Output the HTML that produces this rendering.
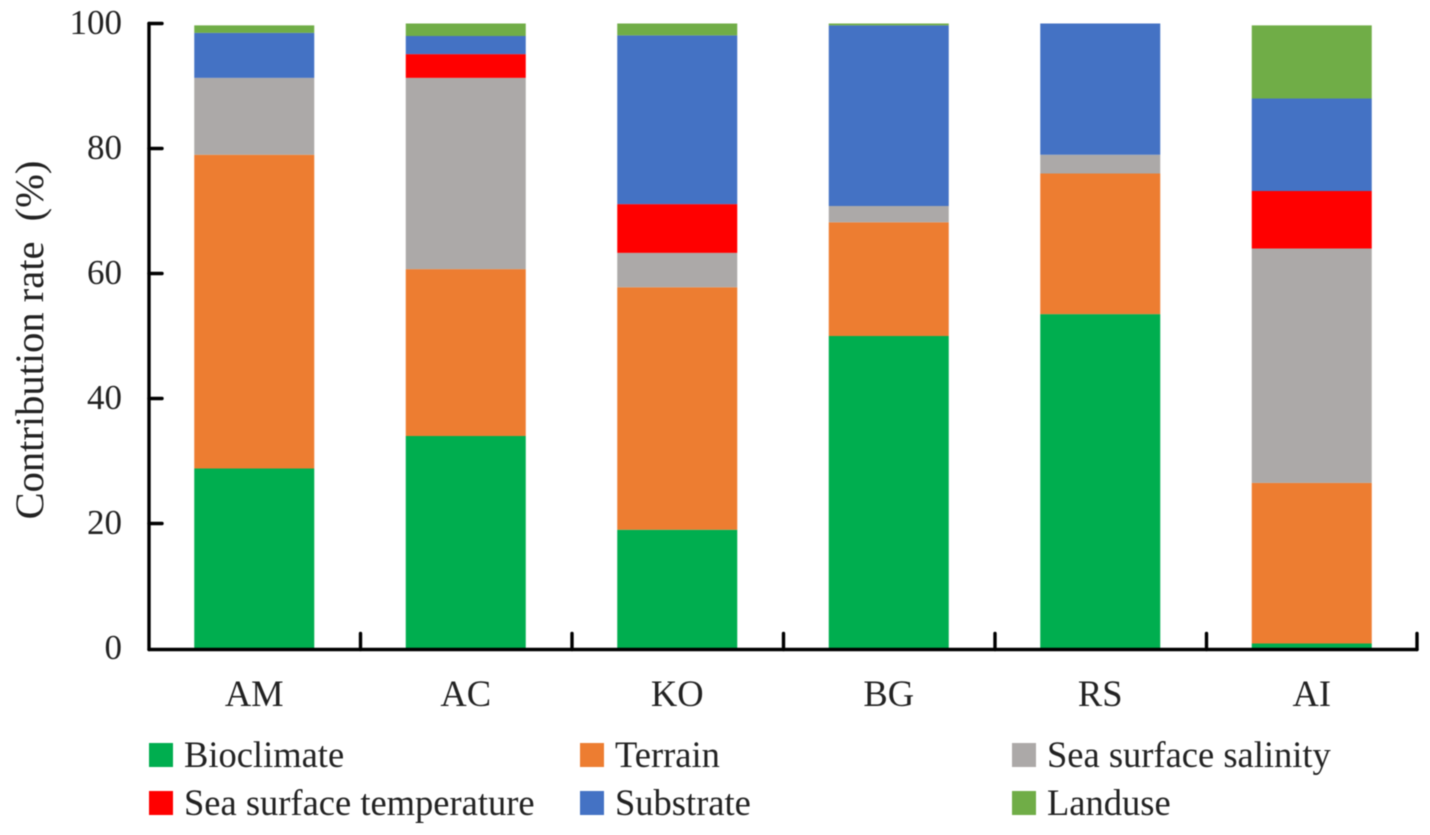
<!DOCTYPE html>
<html lang="en">
<head>
<meta charset="utf-8">
<title>Contribution rate chart</title>
<style>
html,body{margin:0;padding:0;background:#fff;}
body{width:1430px;height:835px;overflow:hidden;}
svg{display:block;filter:blur(0.45px);}
text{font-family:"Liberation Serif",serif;fill:#222;}
</style>
</head>
<body>
<svg id="chart" width="1430" height="835" viewBox="0 0 1430 835" xmlns="http://www.w3.org/2000/svg">
  <g id="marks"></g>
  <g id="axes"></g>
  <g id="legend"></g>
  <text transform="translate(43,340) rotate(-90)" text-anchor="middle" xml:space="preserve" style="font-size:40.5px">Contribution rate  (%)</text>
</svg>
<script>
const categories = ["AM", "AC", "KO", "BG", "RS", "AI"];
const yTickLabels = [0, 20, 40, 60, 80, 100];
const seriesNames = ["Bioclimate", "Terrain", "Sea surface salinity", "Sea surface temperature", "Substrate", "Landuse"];
const bioclimate = [28.8, 34.0, 19.0, 50.0, 53.5, 0.8];
const terrain = [50.2, 26.7, 38.8, 18.2, 22.5, 25.7];
const salinity = [12.3, 30.6, 5.5, 2.6, 3.0, 37.5];
const temperature = [0, 3.8, 7.8, 0, 0, 9.2];
const substrate = [7.2, 2.9, 27.0, 28.9, 21.0, 14.8];
const landuse = [1.2, 2.0, 1.9, 0.3, 0, 11.7];
const seriesValues = [bioclimate, terrain, salinity, temperature, substrate, landuse];
const seriesColors = ["#00ae4f", "#ed7d31", "#aca9a8", "#ff0000", "#4472c4", "#70ad47"];

const NS = "http://www.w3.org/2000/svg";
const plotLeft = 149, plotRight = 1418, plotBottom = 648.5, plotTop = 23.5;
const yMax = 100, barWidth = 120;
const xBand = (plotRight - plotLeft) / categories.length;
const xCenter = i => plotLeft + xBand * (i + 0.5) - 0.5;
const yScale = v => plotBottom - (v / yMax) * (plotBottom - plotTop);

function make(tag, attrs, parent, text) {
  const el = document.createElementNS(NS, tag);
  for (const k in attrs) el.setAttribute(k, attrs[k]);
  if (text !== undefined) el.textContent = text;
  parent.appendChild(el);
  return el;
}

const marks = document.getElementById("marks");
categories.forEach((cat, i) => {
  let cum = 0;
  seriesValues.forEach((vals, s) => {
    const v = vals[i];
    if (v <= 0) return;
    const y0 = yScale(cum), y1 = yScale(cum + v);
    cum += v;
    const r = make("rect", {x: xCenter(i) - barWidth / 2, y: y1, width: barWidth, height: y0 - y1, fill: seriesColors[s]}, marks);
    
    
  });
});

const axes = document.getElementById("axes");
const axisStyle = {stroke: "#000", "stroke-width": 3.4, fill: "none", "stroke-linecap": "round", "stroke-linejoin": "round"};
const yLine = make("line", Object.assign({x1: plotLeft, y1: plotTop, x2: plotLeft, y2: plotBottom + 1}, axisStyle), axes);


const xLine = make("line", Object.assign({x1: plotLeft, y1: plotBottom + 1, x2: plotRight - 1, y2: plotBottom + 1}, axisStyle), axes);



yTickLabels.forEach(t => {
  const y = yScale(t);
  if (t > 0) {
    const tick = make("line", Object.assign({x1: plotLeft, y1: y, x2: plotLeft + 13, y2: y}, axisStyle), axes);
    
    
  }
  const lab = make("text", {x: 122, y: y + 10.5, "text-anchor": "end", "font-size": 35}, axes, String(t));
  
  
});

categories.forEach((cat, i) => {
  const x = plotLeft + xBand * (i + 1) - (i === categories.length - 1 ? 1 : 0);
  const tick = make("line", Object.assign({x1: x, y1: plotBottom + 1, x2: x, y2: plotBottom - 15}, axisStyle), axes);
  
  
  const lab = make("text", {x: xCenter(i), y: 706, "text-anchor": "middle", "font-size": 36.5}, axes, cat);
  
  
});

const legendColumns = [149, 580, 1012];
const legendRows = [744, 792];
const legendOrder = [0, 1, 2, 3, 4, 5];
const legend = document.getElementById("legend");
legendOrder.forEach((s, n) => {
  const cx = legendColumns[n % 3], ry = legendRows[Math.floor(n / 3)];
  const g = make("g", {}, legend);
  
  
  const sw = make("rect", {x: cx, y: ry - 1, width: 24, height: 24, fill: seriesColors[s]}, g);
  
  
  const tx = make("text", {x: cx + 35, y: ry + 23, "font-size": 36.5}, g, seriesNames[s]);
  
  
});
</script>
</body>
</html>
